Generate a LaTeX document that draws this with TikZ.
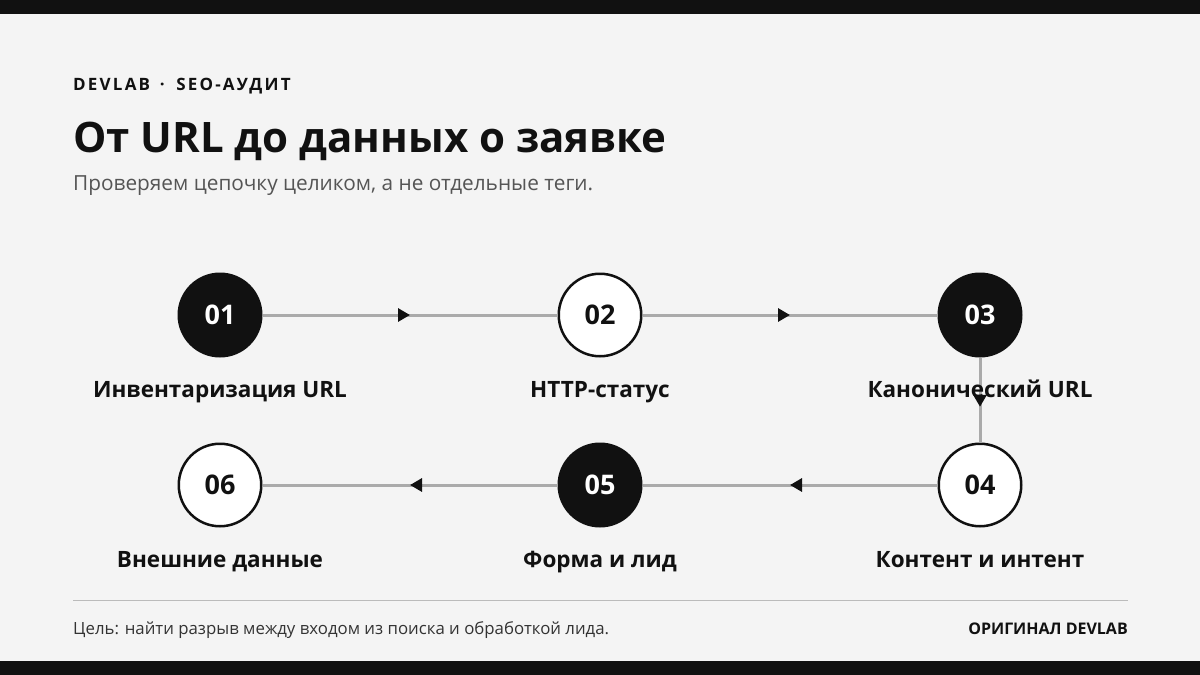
\documentclass[tikz,border=0pt]{standalone}
\usepackage{fontspec}
\setmainfont{Open Sans}
\usetikzlibrary{arrows.meta,decorations.markings}
\definecolor{ink}{HTML}{111111}
\definecolor{paper}{HTML}{F4F4F4}
\definecolor{wire}{HTML}{AAAAAA}
\definecolor{muted}{HTML}{555555}
\definecolor{rulegray}{HTML}{BBBBBB}
\definecolor{foot}{HTML}{333333}
\tikzset{
  stepdark/.style={circle,fill=ink,draw=ink,line width=2.5pt,minimum size=82.5pt,inner sep=0pt,text=white,font=\fontsize{27}{31}\selectfont\bfseries},
  steplight/.style={stepdark,fill=white,text=ink},
  steplabel/.style={anchor=base,inner sep=0pt,text=ink,font=\fontsize{22.5}{27}\selectfont\bfseries},
  flow/.style={draw=wire,line width=3pt,postaction={decorate},
    decoration={markings,mark=at position #1 with {\arrow{Triangle[length=12pt,width=13pt,color=ink,fill=ink]}}}},
  flow/.default=0.5
}
\begin{document}
\begin{tikzpicture}[x=1pt,y=-1pt]
  \useasboundingbox (0,0) rectangle (1200,675);
  \fill[paper] (0,0) rectangle (1200,675);
  \fill[ink] (0,0) rectangle (1200,14);
  \fill[ink] (0,661) rectangle (1200,675);
  % header
  \node[anchor=base west,inner sep=0pt,text=ink,font=\fontsize{17}{20}\selectfont\bfseries] (kicker) at (73,90) {\addfontfeature{LetterSpace=13}DEVLAB\hspace{3pt} · \hspace{5pt}SEO-АУДИТ};
  \node[anchor=base west,inner sep=0pt,text=ink,font=\fontsize{42}{50}\selectfont\bfseries] (title) at (73,152) {От URL до данных о заявке};
  \node[anchor=base west,inner sep=0pt,text=muted,font=\fontsize{20.8}{25}\selectfont] (subtitle) at (73,190) {Проверяем цепочку целиком, а не отдельные теги.};
  % steps
  \node[stepdark] (s01) at (220,315) {01};
  \node[steplight] (s02) at (600,315) {02};
  \node[stepdark] (s03) at (980,315) {03};
  \node[steplight] (s04) at (980,485) {04};
  \node[stepdark] (s05) at (600,485) {05};
  \node[steplight] (s06) at (220,485) {06};
  \draw[flow] (s01) -- (s02);
  \draw[flow] (s02) -- (s03);
  \draw[flow=0.58] (s03) -- (s04);
  \draw[flow] (s04) -- (s05);
  \draw[flow] (s05) -- (s06);
  \node[steplabel] (l01) at (220,397) {Инвентаризация URL};
  \node[steplabel] (l02) at (600,397) {HTTP-статус};
  \node[steplabel] (l03) at (980,397) {Канонический URL};
  \node[steplabel] (l04) at (980,567) {Контент и интент};
  \node[steplabel] (l05) at (600,567) {Форма и лид};
  \node[steplabel] (l06) at (220,567) {Внешние данные};
  % footer
  \draw[rulegray,line width=1pt] (73,600) -- (1128,600);
  \node[anchor=base west,inner sep=0pt,text=foot,font=\fontsize{16.8}{20}\selectfont] (goal) at (73,634) {Цель: найти разрыв между входом из поиска и обработкой лида.};
  \node[anchor=base east,inner sep=0pt,text=ink,font=\fontsize{16}{20}\selectfont\bfseries] (brand) at (1128,634) {ОРИГИНАЛ DEVLAB};
\end{tikzpicture}
\end{document}
